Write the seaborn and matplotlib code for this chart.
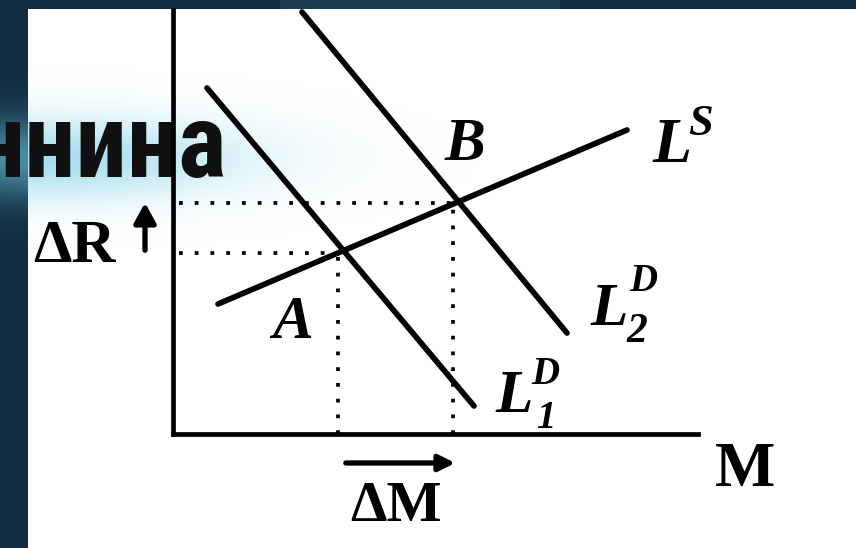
import numpy as np
import pandas as pd
import matplotlib
matplotlib.use("Agg")
import matplotlib.pyplot as plt
import seaborn as sns
from matplotlib import font_manager as fm

# Диаграмма рынка кредитов: сдвиг спроса L1D -> L2D
# Единицы условные (M по горизонтали, R по вертикали)
axis_len_m = 52.5
axis_len_r = 42.4

ld1_m = [3.4, 30.1]
ld1_r = [34.6, 2.8]
ld2_m = [12.9, 39.4]
ld2_r = [42.2, 10.1]
ls_m = [4.5, 45.4]
ls_r = [13.0, 30.4]

point_a = (16.5, 18.1)
point_b = (28.0, 23.1)
dot_start_m = 0.6

banner_word = "ннина"

sns.set_theme(style="white")
plt.rcParams["font.family"] = ["Liberation Serif", "DejaVu Serif"]

names = {f.name for f in fm.fontManager.ttflist}
banner_font = "DejaVu Sans"
for cand in ["Roboto Condensed", "Liberation Sans Narrow", "Open Sans Condensed", "Roboto"]:
    if cand in names:
        banner_font = cand
        break

fig = plt.figure(figsize=(8.56, 5.48), dpi=100)
fig.patch.set_facecolor("white")

# фон: тёмные полосы и голубое свечение за словом (в пикселях)
bg = fig.add_axes([0, 0, 1, 1], zorder=0)
bg.set_xlim(0, 856)
bg.set_ylim(548, 0)
bg.axis("off")
navy = "#112c40"
bg.axvspan(0, 28, color=navy, lw=0)
bg.axhspan(0, 9, color=navy, lw=0)
bg.axhspan(0, 9, xmin=280 / 856, xmax=560 / 856, color="#24485c", lw=0, alpha=0.6)

gx, gy = np.meshgrid(np.arange(0, 480), np.arange(20, 300))
glow_alpha = 0.62 * np.exp(-((gx - 50) / 190.0) ** 2 - ((gy - 158) / 40.0) ** 2)
glow = np.zeros(gx.shape + (4,))
glow[..., 0] = 0.45
glow[..., 1] = 0.80
glow[..., 2] = 0.90
glow[..., 3] = glow_alpha
bg.imshow(glow, extent=(0, 480, 300, 20), aspect="auto", interpolation="bilinear", zorder=1)

bg.text(227, 177, banner_word, ha="right", va="baseline", fontsize=74,
        fontweight="bold", family=banner_font, color="#101010", zorder=2)

# сама диаграмма
ax = fig.add_axes([0, 0, 1, 1], zorder=1)
ax.patch.set_alpha(0)
ax.set_xlim(-17.3, 68.3)
ax.set_ylim(-11.4, 43.4)
ax.axis("off")

lines = pd.concat([
    pd.DataFrame({"M": [0, axis_len_m], "R": [0, 0], "line": "xaxis"}),
    pd.DataFrame({"M": [0, 0], "R": [0, axis_len_r], "line": "yaxis"}),
])
for name, grp in lines.groupby("line"):
    sns.lineplot(data=grp, x="M", y="R", sort=False, estimator=None, color="black",
                 lw=3.4, ax=ax, solid_capstyle="projecting")

curves = pd.concat([
    pd.DataFrame({"M": ld1_m, "R": ld1_r, "line": "LD1"}),
    pd.DataFrame({"M": ld2_m, "R": ld2_r, "line": "LD2"}),
    pd.DataFrame({"M": ls_m, "R": ls_r, "line": "LS"}),
])
for name, grp in curves.groupby("line"):
    sns.lineplot(data=grp, x="M", y="R", sort=False, estimator=None, color="black",
                 lw=4.1, ax=ax, solid_capstyle="round")

# пунктир к точкам равновесия
for pm, pr in [point_a, point_b]:
    ax.plot([dot_start_m, pm], [pr, pr], color="black", lw=2.7, ls=(0, (1, 3.2)))
    ax.plot([pm, pm], [0, pr], color="black", lw=2.7, ls=(0, (1, 3.2)))

it = dict(style="italic", fontweight="bold", color="black", ha="center", va="center")
ax.text(29.2, 28.9, "B", fontsize=44, **it)
ax.text(12.0, 11.1, "A", fontsize=44, **it)
ax.text(49.9, 28.7, "L", fontsize=46, **it)
ax.text(52.8, 31.0, "S", fontsize=32, **it)
ax.text(43.6, 12.4, "L", fontsize=44, **it)
ax.text(47.0, 15.2, "D", fontsize=28, **it)
ax.text(46.4, 10.2, "2", fontsize=30, **it)
ax.text(34.1, 3.7, "L", fontsize=44, **it)
ax.text(37.2, 6.0, "D", fontsize=28, **it)
ax.text(37.3, 1.6, "1", fontsize=28, **it)

up = dict(fontweight="bold", color="black", ha="center", va="center")
ax.text(-9.9, 18.7, "ΔR", fontsize=44, **up)
ax.text(22.3, -7.3, "ΔM", fontsize=42, **up)
ax.text(57.2, -3.7, "M", fontsize=46, **up)

ax.annotate("", xy=(-2.8, 23.4), xytext=(-2.8, 18.1),
            arrowprops=dict(arrowstyle="-|>,head_length=1.0,head_width=0.55",
                            color="black", lw=3.8))
ax.annotate("", xy=(28.5, -2.9), xytext=(17.0, -2.9),
            arrowprops=dict(arrowstyle="-|>,head_length=0.8,head_width=0.4",
                            color="black", lw=3.8))

fig.savefig("out.png", dpi=100)
